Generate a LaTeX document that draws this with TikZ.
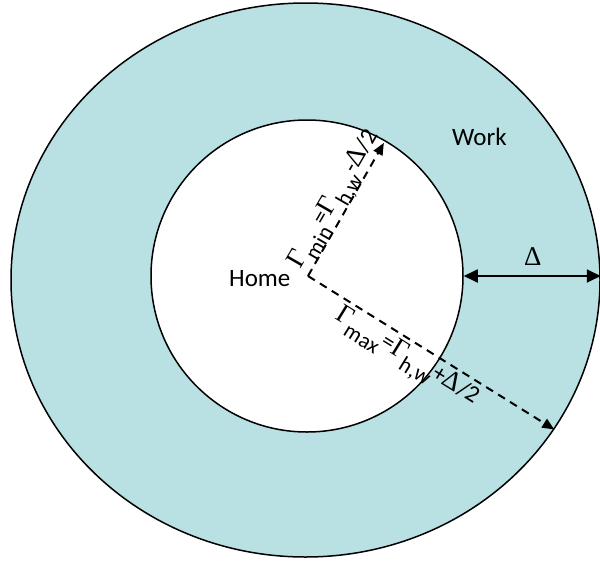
\documentclass[tikz,border=0pt]{standalone}
\usepackage{fontspec}
\setmainfont{Carlito}
\newfontfamily\gr{Liberation Serif}
\usetikzlibrary{shapes.geometric,arrows.meta}
\definecolor{ring}{RGB}{185,224,227}
\tikzset{
 ringshape/.style={ellipse,draw=black,line width=1.5pt,fill=ring,inner sep=0pt,minimum width=589pt,minimum height=554pt},
 homeshape/.style={circle,draw=black,line width=1.5pt,fill=white,inner sep=0pt,minimum size=312pt},
 radline/.style={line width=2pt,dash pattern=on 8pt off 6pt,-{Triangle[length=12pt,width=10pt]}},
 spanarrow/.style={line width=1.8pt,{Triangle[length=14pt,width=13pt]}-{Triangle[length=14pt,width=13pt]}},
 wordlabel/.style={font=\fontsize{25}{25}\selectfont,inner sep=0pt},
 eqn/.style={font=\fontsize{24}{24}\selectfont,inner sep=0pt},
}
\newcommand\gsym[1]{{\gr\fontsize{27}{27}\selectfont #1}}
\newcommand\lowsub[1]{\raisebox{-10pt}{\fontsize{22}{22}\selectfont #1}}
\begin{document}
\begin{tikzpicture}[x=1pt,y=-1pt]
\useasboundingbox (0,0) rectangle (600,560);
\node[ringshape] (work) at (305.5,280) {};
\node[homeshape] (home) at (307,276) {};
\coordinate (c) at (308,276);
\draw[radline, shorten >=3pt] (c) -- (home.60);
\draw[radline] (c) -- (work.-31.5);
\draw[spanarrow] (home.east) -- (work.east |- home.east);
\node[eqn, anchor=base west, rotate=60] (minlab) at (300,270) {\gsym{Γ}\lowsub{min}=\gsym{Γ}\lowsub{h,w}-\gsym{Δ}/2};
\node[eqn, anchor=base west, rotate=-31.7] (maxlab) at (334,318) {\gsym{Γ}\lowsub{max}=\gsym{Γ}\lowsub{h,w}+\gsym{Δ}/2};
\node[wordlabel, anchor=base west] (homelab) at (229,286) {Home};
\node[wordlabel, anchor=base west] (worklab) at (452,145) {Work};
\node[anchor=base west, inner sep=0pt] (dlab) at (524,265) {\gsym{Δ}};
\end{tikzpicture}
\end{document}
